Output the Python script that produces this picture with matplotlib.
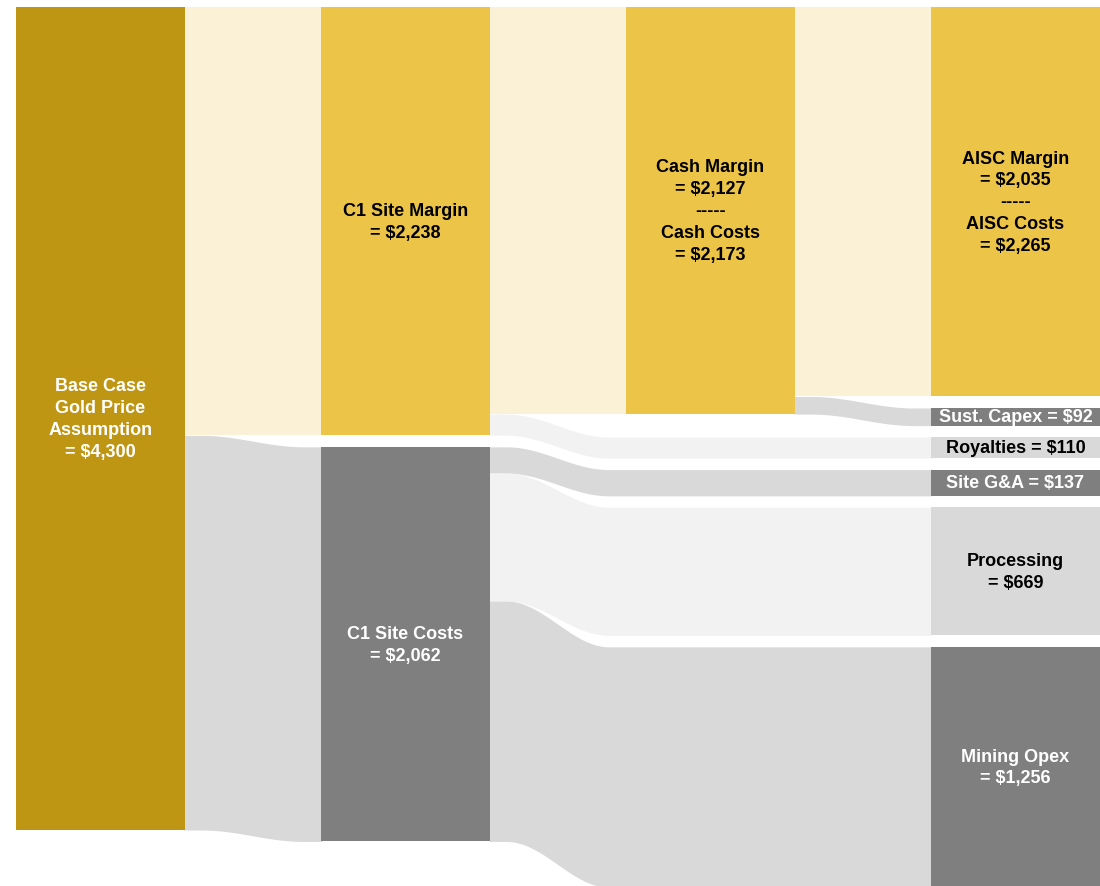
import numpy as np
import matplotlib
matplotlib.use("Agg")
import matplotlib.pyplot as plt

plt.rcParams['font.family'] = ['Liberation Sans', 'DejaVu Sans']

# nodes of the cost breakdown (per ounce)
node_labels = [
    "Base Case\nGold Price\nAssumption\n= $4,300",
    "C1 Site Margin\n= $2,238",
    "C1 Site Costs\n= $2,062",
    "Cash Margin\n= $2,127\n-----\nCash Costs\n= $2,173",
    "AISC Margin\n= $2,035\n-----\nAISC Costs\n= $2,265",
    "Sust. Capex = $92",
    "Royalties = $110",
    "Site G&A = $137",
    "Processing\n= $669",
    "Mining Opex\n= $1,256",
]
node_values = [4300, 2238, 2062, 2127, 2035, 92, 110, 137, 669, 1256]
node_columns = [0, 1, 1, 2, 3, 3, 3, 3, 3, 3]

# flows between the nodes
link_sources = [0, 0, 1, 1, 2, 2, 2, 3, 3]
link_targets = [1, 2, 3, 6, 7, 8, 9, 4, 5]
link_values = [2238, 2062, 2127, 110, 137, 669, 1256, 2035, 92]

# styles
GOLD = "#BF9613"
YELLOW = "#EBC448"
CREAM = "#FBF1D6"
DARK = "#7F7F7F"
MID = "#D9D9D9"
LIGHT = "#F2F2F2"
node_colors = [GOLD, YELLOW, DARK, YELLOW, YELLOW, DARK, MID, DARK, MID, DARK]
text_colors = ["white", "black", "white", "black", "black",
               "white", "black", "white", "black", "white"]
link_colors = [CREAM, MID, CREAM, LIGHT, MID, LIGHT, MID, CREAM, MID]

col_left = [16, 321, 626, 931]
node_w = 169
gap = 60          # in dollars
px_per_dollar = 823 / 4300
top_px = 8
inset = 17

fig = plt.figure(figsize=(11, 8.87), dpi=100)
ax = fig.add_axes([0, 0, 1, 1])
ax.set_xlim(0, 1100)
ax.set_ylim((887 - top_px) / px_per_dollar, -top_px / px_per_dollar)
ax.axis('off')

# stack nodes in each column
node_y = [0.0] * len(node_values)
col_cursor = {}
for i, v in enumerate(node_values):
    c = node_columns[i]
    y = col_cursor.get(c, 0.0)
    node_y[i] = y
    col_cursor[c] = y + v + gap

out_cursor = list(node_y)
in_cursor = list(node_y)


def ease(t):
    return (1 - np.cos(np.pi * t)) / 2


for s, t, v, col in zip(link_sources, link_targets, link_values, link_colors):
    ys0 = out_cursor[s]
    yt0 = in_cursor[t]
    out_cursor[s] += v
    in_cursor[t] += v
    # overlap the nodes by a pixel so no seam shows
    x0 = col_left[node_columns[s]] + node_w - 1
    x1 = col_left[node_columns[t]] + 1
    c0 = x0 + inset
    c1 = col_left[node_columns[s] + 1] - inset
    xs = np.linspace(x0, x1, 400)
    f = ease(np.clip((xs - c0) / (c1 - c0), 0, 1))
    top = ys0 + (yt0 - ys0) * f
    ax.fill_between(xs, top, top + v, color=col, lw=0)

for i, v in enumerate(node_values):
    x = col_left[node_columns[i]]
    ax.bar(x, v, width=node_w, bottom=node_y[i], align='edge',
           color=node_colors[i], lw=0)
    ax.text(x + node_w / 2, node_y[i] + v / 2, node_labels[i],
            ha='center', va='center', fontsize=13, fontweight='bold',
            color=text_colors[i], linespacing=1.37)

fig.savefig("out.png", dpi=100)
